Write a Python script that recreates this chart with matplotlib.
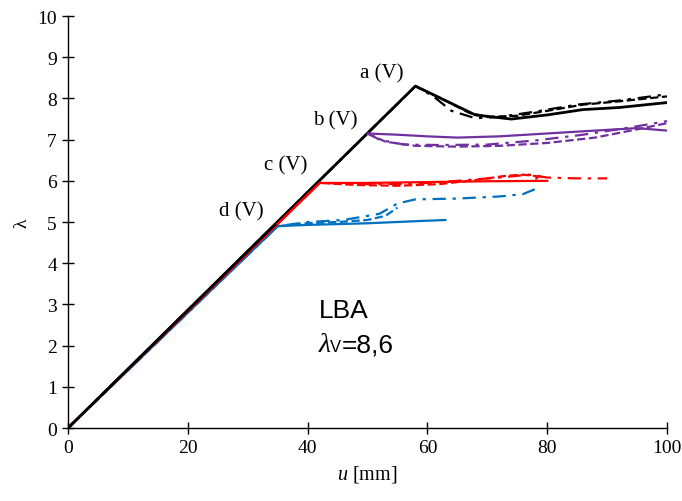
import matplotlib
matplotlib.use('Agg')
import matplotlib.pyplot as plt

plt.rcParams['mathtext.fontset'] = 'custom'
plt.rcParams['mathtext.it'] = 'Liberation Serif:italic'
plt.rcParams['mathtext.rm'] = 'Liberation Serif'

# ── data ──
# a (V): black
a_solid_u = [0, 58, 63, 68, 74, 80, 86, 92, 100]
a_solid_l = [0, 8.3, 7.95, 7.6, 7.5, 7.6, 7.73, 7.78, 7.9]
a_dash_u = [0, 58, 63, 67, 70, 75, 80, 86, 92, 100]
a_dash_l = [0, 8.3, 7.95, 7.65, 7.55, 7.58, 7.7, 7.85, 7.93, 8.05]
a_dd_u = [0, 58, 61, 64, 68, 72, 78, 85, 92, 100]
a_dd_l = [0, 8.3, 8.05, 7.7, 7.52, 7.55, 7.68, 7.85, 7.95, 8.1]

# b (V): purple
b_solid_u = [50, 55, 60, 65, 72, 80, 88, 95, 100]
b_solid_l = [7.15, 7.12, 7.08, 7.05, 7.08, 7.15, 7.22, 7.28, 7.22]
b_dash_u = [50, 53, 58, 65, 72, 80, 88, 95, 100]
b_dash_l = [7.15, 6.95, 6.85, 6.83, 6.85, 6.92, 7.05, 7.25, 7.4]
b_dd_u = [50, 52, 56, 62, 70, 78, 86, 94, 100]
b_dd_l = [7.15, 7.0, 6.88, 6.87, 6.88, 6.98, 7.12, 7.3, 7.45]

# c (V): red
c_solid_u = [0, 42, 50, 60, 70, 80]
c_solid_l = [0, 5.95, 5.95, 5.97, 5.99, 6.0]
c_dash_u = [0, 42, 48, 55, 62, 68, 73, 76, 79, 78]
c_dash_l = [0, 5.95, 5.9, 5.88, 5.92, 6.02, 6.12, 6.15, 6.1, 6.05]
c_dd_u = [0, 42, 50, 58, 65, 72, 77, 80, 85, 90]
c_dd_l = [0, 5.95, 5.92, 5.93, 6.0, 6.08, 6.15, 6.08, 6.06, 6.06]

# d (V): blue
d_solid_u = [0, 35, 40, 50, 58, 63]
d_solid_l = [0, 4.9, 4.93, 4.97, 5.02, 5.05]
d_dash_u = [0, 35, 40, 45, 50, 53, 55]
d_dash_l = [0, 4.9, 4.97, 5.0, 5.05, 5.15, 5.35]
d_dd_u = [0, 35, 40, 46, 52, 55, 58, 65, 72, 76, 78]
d_dd_l = [0, 4.9, 5.0, 5.05, 5.2, 5.45, 5.55, 5.57, 5.62, 5.68, 5.8]

BLACK = '#000000'
PURPLE = '#7030A0'
RED = '#FF0000'
BLUE = '#0070C0'
DASHDOT = (0, (6, 3, 1.5, 3))

fig = plt.figure(figsize=(6.82, 5.02), dpi=100)
ax = fig.add_axes([0.0997, 0.1454, 0.8783, 0.8206])

lw = 1.6
# blue
ax.plot(d_dd_u, d_dd_l, color=BLUE, lw=lw, ls=DASHDOT)
ax.plot(d_dash_u, d_dash_l, color=BLUE, lw=lw, ls='--')
ax.plot(d_solid_u, d_solid_l, color=BLUE, lw=lw)
# red
ax.plot(c_dd_u, c_dd_l, color=RED, lw=lw, ls=DASHDOT)
ax.plot(c_dash_u, c_dash_l, color=RED, lw=lw, ls='--')
ax.plot(c_solid_u, c_solid_l, color=RED, lw=lw)
# black
ax.plot(a_dd_u, a_dd_l, color=BLACK, lw=lw, ls=DASHDOT)
ax.plot(a_dash_u, a_dash_l, color=BLACK, lw=lw, ls='--')
ax.plot(a_solid_u, a_solid_l, color=BLACK, lw=2.0)
# red drawn over black on the last part of its ramp
ax.plot([35, c_solid_u[1]], [35 * c_solid_l[1] / c_solid_u[1], c_solid_l[1]],
        color=RED, lw=lw)
# purple
ax.plot(b_dd_u, b_dd_l, color=PURPLE, lw=lw, ls=DASHDOT)
ax.plot(b_dash_u, b_dash_l, color=PURPLE, lw=lw, ls='--')
ax.plot(b_solid_u, b_solid_l, color=PURPLE, lw=lw)

ax.set_xlim(0, 100)
ax.set_ylim(0, 10)
ax.set_xticks(range(0, 101, 20))
ax.set_yticks(range(0, 11))
ax.spines['top'].set_visible(False)
ax.spines['right'].set_visible(False)
ax.spines['left'].set_linewidth(1.0)
ax.spines['bottom'].set_linewidth(1.0)
ax.tick_params(direction='inout', length=8, width=1.0,
               labelsize=14, pad=4)
for lab in ax.get_xticklabels() + ax.get_yticklabels():
    lab.set_fontfamily('Liberation Serif')

ax.set_xlabel(r'$u$ [mm]', fontsize=14.5, family='Liberation Serif', labelpad=5)
ax.set_ylabel('λ', fontsize=14, family='Liberation Serif', labelpad=5)

for txt, (x, y) in [('a (V)', (52.3, 8.62)), ('b (V)', (44.6, 7.47)),
                    ('c (V)', (36.3, 6.4)), ('d (V)', (29.0, 5.27))]:
    ax.text(x, y, txt, fontsize=15, family='Liberation Serif',
            ha='center', va='center')

ax.text(41.9, 2.86, 'LBA', fontsize=19, family='Liberation Sans',
        ha='left', va='center')
ax.text(41.9, 2.02, 'λ', fontsize=20, family='Liberation Serif',
        style='italic', ha='left', va='center')
ax.text(43.8, 1.97, 'V', fontsize=12, family='Liberation Sans',
        ha='left', va='center')
ax.text(45.7, 2.02, '=8,6', fontsize=19, family='Liberation Sans',
        ha='left', va='center')

fig.savefig('out.png', dpi=100, facecolor='white')
